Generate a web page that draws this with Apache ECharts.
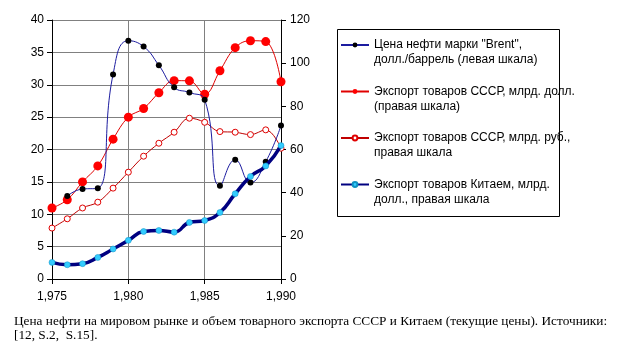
<!DOCTYPE html>
<html>
<head>
<meta charset="utf-8">
<script src="https://cdn.jsdelivr.net/npm/echarts@6/dist/echarts.min.js"></script>
<style>
html, body { margin: 0; padding: 0; background: #fff; }
#chart { width: 618px; height: 352px; }
</style>
</head>
<body>
<div id="chart"></div>
<script>
var years = [1975, 1976, 1977, 1978, 1979, 1980, 1981, 1982, 1983, 1984, 1985, 1986, 1987, 1988, 1989, 1990];
// левая шкала, долл./баррель
var brent = [null, 12.8, 13.9, 14.0, 31.6, 36.8, 35.9, 33.0, 29.6, 28.8, 27.7, 14.4, 18.4, 14.9, 18.1, 23.7];
// правая шкала
var ussrUsd = [32.9, 36.7, 45.0, 52.4, 64.8, 75.0, 79.0, 86.3, 91.9, 91.8, 85.6, 96.5, 107.2, 110.4, 110.0, 91.4];
var ussrRub = [23.6, 27.9, 32.9, 35.6, 42.1, 49.5, 56.9, 62.9, 68.0, 74.5, 72.6, 68.3, 68.0, 66.9, 69.1, 60.6];
var china = [7.7, 6.6, 7.1, 10.0, 13.9, 17.9, 22.0, 22.5, 21.7, 26.2, 27.1, 30.8, 39.5, 47.5, 52.4, 61.8];

var names = [
    'Цена нефти марки "Brent",\nдолл./баррель (левая шкала)',
    'Экспорт товаров СССР, млрд. долл.\n(правая шкала)',
    'Экспорт товаров СССР, млрд. руб.,\nправая шкала',
    'Экспорт товаров Китаем, млрд.\nдолл., правая шкала'
];
var caption = 'Цена нефти на мировом рынке и объем товарного экспорта СССР и Китаем (текущие цены). Источники:\n[12, S.2,  S.15].';

function pairs(vals) {
    var out = [];
    for (var i = 0; i < years.length; i++) {
        out.push([years[i], vals[i]]);
    }
    return out;
}

var myChart = echarts.init(document.getElementById('chart'));
var font = 'Liberation Sans, Arial, sans-serif';

var option = {
    animation: false,
    backgroundColor: '#fff',
    title: {
        text: caption,
        left: 14,
        top: 315,
        padding: 0,
        textStyle: {
            fontFamily: 'Liberation Serif, Times New Roman, serif',
            fontSize: 13.3,
            fontWeight: 'normal',
            color: '#000',
            lineHeight: 13.5
        }
    },
    grid: { left: 52, right: 337, top: 20, bottom: 73 },
    legend: {
        orient: 'vertical',
        left: 340,
        top: 22.5,
        padding: 0,
        itemGap: 1.5,
        itemWidth: 28,
        itemHeight: 6,
        textStyle: {
            fontFamily: font,
            fontSize: 12,
            color: '#000',
            lineHeight: 15
        },
        // пустая первая строка, чтобы значок стоял у первой строки подписи
        formatter: function (name) {
            return '\n' + name;
        },
        data: names
    },
    graphic: [{
        type: 'rect',
        shape: { x: 337.5, y: 29.5, width: 222, height: 187 },
        style: { fill: null, stroke: '#000', lineWidth: 1 }
    }],
    xAxis: {
        type: 'value',
        min: 1975,
        max: 1990,
        interval: 5,
        axisLine: { lineStyle: { color: '#000' } },
        axisTick: { length: 5, lineStyle: { color: '#000' } },
        axisLabel: { color: '#000', fontFamily: font, fontSize: 12, margin: 12 },
        splitLine: { lineStyle: { color: '#808080' } }
    },
    yAxis: [{
        type: 'value',
        min: 0,
        max: 40,
        interval: 5,
        axisLine: { show: true, lineStyle: { color: '#000' } },
        axisTick: { show: true, length: 5, lineStyle: { color: '#000' } },
        axisLabel: { color: '#000', fontFamily: font, fontSize: 12, margin: 8 },
        splitLine: { lineStyle: { color: '#808080' } }
    }, {
        type: 'value',
        min: 0,
        max: 120,
        interval: 20,
        position: 'right',
        axisLine: { show: true, lineStyle: { color: '#000' } },
        axisTick: { show: true, length: 5, lineStyle: { color: '#000' } },
        axisLabel: { color: '#000', fontFamily: font, fontSize: 12, margin: 9 },
        splitLine: { show: false }
    }],
    series: [{
        name: names[0],
        type: 'line',
        yAxisIndex: 0,
        smooth: 0.5,
        connectNulls: true,
        symbol: 'circle',
        symbolSize: 6,
        lineStyle: { color: '#1c1ca0', width: 1 },
        itemStyle: { color: '#000', borderWidth: 0 },
        data: pairs(brent),
        z: 4
    }, {
        name: names[1],
        type: 'line',
        yAxisIndex: 1,
        smooth: 0.4,
        symbol: 'circle',
        symbolSize: 9,
        lineStyle: { color: '#e00000', width: 1 },
        itemStyle: { color: '#ff0000', borderWidth: 0 },
        data: pairs(ussrUsd),
        z: 3
    }, {
        name: names[2],
        type: 'line',
        yAxisIndex: 1,
        smooth: 0.4,
        symbol: 'circle',
        symbolSize: 6,
        lineStyle: { color: '#c00000', width: 1 },
        itemStyle: { color: '#fff', borderColor: '#e00000', borderWidth: 1 },
        data: pairs(ussrRub),
        z: 2
    }, {
        name: names[3],
        type: 'line',
        yAxisIndex: 1,
        smooth: 0.5,
        symbol: 'circle',
        symbolSize: 6,
        lineStyle: { color: '#000080', width: 3.5 },
        itemStyle: { color: '#33ccff', borderColor: '#1090c0', borderWidth: 0.5 },
        data: pairs(china),
        z: 5
    }]
};

myChart.setOption(option);
window.addEventListener('resize', function () {
    myChart.resize();
});
</script>
</body>
</html>
